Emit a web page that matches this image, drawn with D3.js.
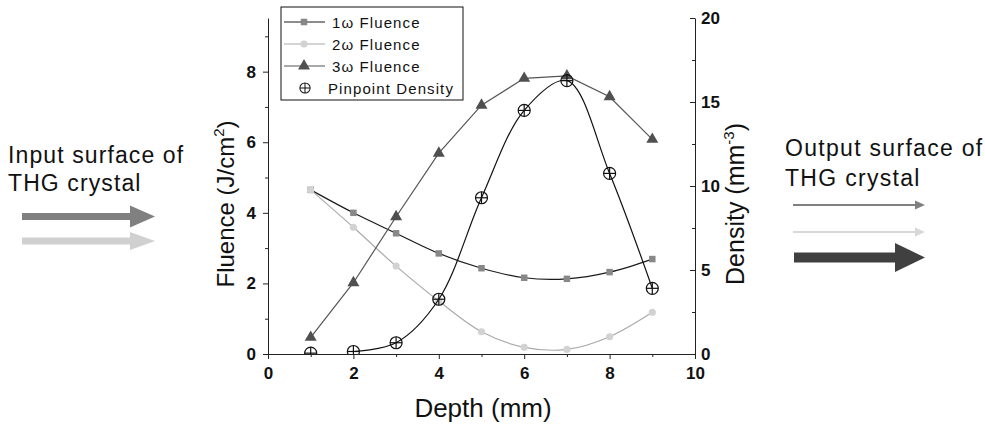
<!DOCTYPE html>
<meta charset="utf-8">
<style>
body { margin: 0; background: #fff; }
svg { font-family: "Liberation Sans", Arial, sans-serif; }
.tick text { font-family: "Liberation Sans Narrow", "Arial Narrow", "Liberation Sans", sans-serif; font-weight: bold; font-size: 17px; fill: #111; }
.axis path, .axis line { stroke: #222; }
.title { fill: #111; }
.side { font-size: 23px; fill: #111; }
.legend text { font-size: 15px; letter-spacing: 1.1px; fill: #111; }
</style>
<svg width="985" height="425"></svg>
<script src="https://d3js.org/d3.v7.min.js"></script>
<script>

let depth = [1, 2, 3, 4, 5, 6, 7, 8, 9];
let fluence1w = [4.65, 4.0, 3.42, 2.85, 2.43, 2.16, 2.13, 2.32, 2.69];
let fluence2w = [4.65, 3.59, 2.49, 1.5, 0.63, 0.19, 0.13, 0.49, 1.18];
let fluence3w = [0.47, 2.02, 3.89, 5.69, 7.05, 7.81, 7.88, 7.29, 6.08];
let density = [0.05, 0.15, 0.67, 3.26, 9.3, 14.5, 16.27, 10.75, 3.91];
let legendLabels = ['1\u03c9 Fluence', '2\u03c9 Fluence', '3\u03c9 Fluence', 'Pinpoint Density'];

let svg = d3.select('svg');
let plotLeft = 268, plotRight = 695, plotTop = 18, plotBottom = 354;

let x = d3.scaleLinear().domain([0, 10]).range([plotLeft, plotRight]);
let y = d3.scaleLinear().domain([0, 9.52]).range([plotBottom, plotTop]);
let y2 = d3.scaleLinear().domain([0, 20]).range([plotBottom, plotTop]);

svg.append('defs').append('clipPath').attr('id', 'plot')
  .append('rect').attr('x', plotLeft).attr('y', plotTop)
  .attr('width', plotRight - plotLeft).attr('height', plotBottom - plotTop);

// minor ticks first, then major axes
svg.append('g').attr('class', 'axis')
    .attr('transform', 'translate(0,' + plotBottom + ')')
    .call(d3.axisBottom(x).tickValues([1, 3, 5, 7, 9]).tickSize(3).tickFormat(''))
    .call(g => g.select('.domain').remove());
svg.append('g').attr('class', 'axis')
    .attr('transform', 'translate(0,' + plotBottom + ')')
    .call(d3.axisBottom(x).tickValues([0, 2, 4, 6, 8, 10]).tickSize(5).tickSizeOuter(0).tickPadding(8));

svg.append('g').attr('class', 'axis')
    .attr('transform', 'translate(' + plotLeft + ',0)')
    .call(d3.axisLeft(y).tickValues([1, 3, 5, 7, 9]).tickSize(3).tickFormat(''))
    .call(g => g.select('.domain').remove());
svg.append('g').attr('class', 'axis')
    .attr('transform', 'translate(' + plotLeft + ',0)')
    .call(d3.axisLeft(y).tickValues([0, 2, 4, 6, 8]).tickSize(5).tickSizeOuter(0).tickPadding(7));

svg.append('g').attr('class', 'axis')
    .attr('transform', 'translate(' + plotRight + ',0)')
    .call(d3.axisRight(y2).tickValues([2.5, 7.5, 12.5, 17.5]).tickSize(-3).tickFormat(''))
    .call(g => g.select('.domain').remove());
svg.append('g').attr('class', 'axis')
    .attr('transform', 'translate(' + plotRight + ',0)')
    .call(d3.axisRight(y2).tickValues([0, 5, 10, 15, 20]).tickSize(-5).tickSizeOuter(0))
    .call(g => g.selectAll('.tick text').attr('x', 6));

// titles
svg.append('text').attr('class', 'title').attr('x', 483).attr('y', 417)
  .attr('font-size', 26).attr('text-anchor', 'middle').text('Depth (mm)');

let ft = svg.append('text').attr('class', 'title').attr('font-size', 24).attr('text-anchor', 'middle')
  .attr('transform', 'translate(234,204) rotate(-90)');
ft.append('tspan').text('Fluence (J/cm');
ft.append('tspan').attr('dy', -10).attr('font-size', 15).text('2');
ft.append('tspan').attr('dy', 10).text(')');

let dt = svg.append('text').attr('class', 'title').attr('font-size', 25).attr('text-anchor', 'middle')
  .attr('transform', 'translate(744,204) rotate(-90)');
dt.append('tspan').text('Density (mm');
dt.append('tspan').attr('dy', -10).attr('font-size', 15).text('-3');
dt.append('tspan').attr('dy', 10).text(')');

// series
let plot = svg.append('g').attr('clip-path', 'url(#plot)');

let series = [
  { vals: fluence1w, line: '#1a1a1a', fill: '#888', sym: d3.symbolSquare, size: 42, curve: d3.curveCatmullRom },
  { vals: fluence2w, line: '#aaa', fill: '#d2d2d2', sym: d3.symbolCircle, size: 40, curve: d3.curveCatmullRom },
  { vals: fluence3w, line: '#555', fill: '#505050', sym: d3.symbolTriangle, size: 62, curve: d3.curveLinear }
];

series.forEach(s => {
  let line = d3.line().x((d, i) => x(depth[i])).y(d => y(d)).curve(s.curve);
  plot.append('path').attr('d', line(s.vals)).attr('fill', 'none')
    .attr('stroke', s.line).attr('stroke-width', 1.2);
  plot.selectAll(null).data(s.vals).enter().append('path')
    .attr('transform', (d, i) => 'translate(' + x(depth[i]) + ',' + y(d) + ')')
    .attr('d', d3.symbol().type(s.sym).size(s.size)())
    .attr('fill', s.fill);
});

let dline = d3.line().x((d, i) => x(depth[i + 1])).y(d => y2(d)).curve(d3.curveCatmullRom);
plot.append('path').attr('d', dline(density.slice(1))).attr('fill', 'none')
  .attr('stroke', '#111').attr('stroke-width', 1.2);

function crossCircle(g) {
  g.append('circle').attr('r', 6).attr('fill', 'none').attr('stroke', '#111').attr('stroke-width', 1.2);
  g.append('line').attr('x1', -6).attr('x2', 6).attr('stroke', '#111').attr('stroke-width', 1.2);
  g.append('line').attr('y1', -6).attr('y2', 6).attr('stroke', '#111').attr('stroke-width', 1.2);
}

plot.selectAll('.dmark').data(density).enter().append('g').attr('class', 'dmark')
  .attr('transform', (d, i) => 'translate(' + x(depth[i]) + ',' + y2(d) + ')')
  .each(function() { crossCircle(d3.select(this)); });

// legend
let lg = svg.append('g').attr('class', 'legend');
lg.append('rect').attr('x', 281).attr('y', 7).attr('width', 182).attr('height', 93)
  .attr('fill', '#fff').attr('stroke', '#111').attr('stroke-width', 1);
let rowY = [22, 44, 66, 88];
series.forEach((s, i) => {
  lg.append('line').attr('x1', 284).attr('x2', 325).attr('y1', rowY[i]).attr('y2', rowY[i])
    .attr('stroke', s.line).attr('stroke-width', 1.2);
  lg.append('path').attr('transform', 'translate(304,' + rowY[i] + ')')
    .attr('d', d3.symbol().type(s.sym).size(s.size)()).attr('fill', s.fill);
});
crossCircle(lg.append('g').attr('transform', 'translate(305,88) scale(0.85)'));
legendLabels.forEach((t, i) => {
  lg.append('text').attr('x', i < 3 ? 332 : 328).attr('y', rowY[i] + 5.5).text(t);
});

// side annotations
let arrow = (g, x1, x2, yy, w, hl, hw, c) => {
  g.append('rect').attr('x', x1).attr('y', yy - w / 2).attr('width', x2 - hl - x1).attr('height', w).attr('fill', c);
  g.append('path').attr('d', 'M' + (x2 - hl) + ',' + (yy - hw / 2) + 'L' + x2 + ',' + yy + 'L' + (x2 - hl) + ',' + (yy + hw / 2) + 'Z').attr('fill', c);
};

svg.append('text').attr('class', 'side').attr('x', 8).attr('y', 163).attr('letter-spacing', 1.1).text('Input surface of');
svg.append('text').attr('class', 'side').attr('x', 8).attr('y', 191).attr('letter-spacing', 1.1).text('THG crystal');
arrow(svg, 22, 155, 216.5, 7, 25, 22, '#808080');
arrow(svg, 22, 155, 241, 7, 25, 18, '#d0d0d0');

svg.append('text').attr('class', 'side').attr('x', 785).attr('y', 156).attr('letter-spacing', 1.3).text('Output surface of');
svg.append('text').attr('class', 'side').attr('x', 785).attr('y', 186).attr('letter-spacing', 1.3).text('THG crystal');
arrow(svg, 793, 925, 205, 2, 10, 9, '#808080');
arrow(svg, 793, 925, 232, 2, 10, 9, '#d8d8d8');
arrow(svg, 794, 925, 257.5, 10, 30, 29, '#404040');

</script>
